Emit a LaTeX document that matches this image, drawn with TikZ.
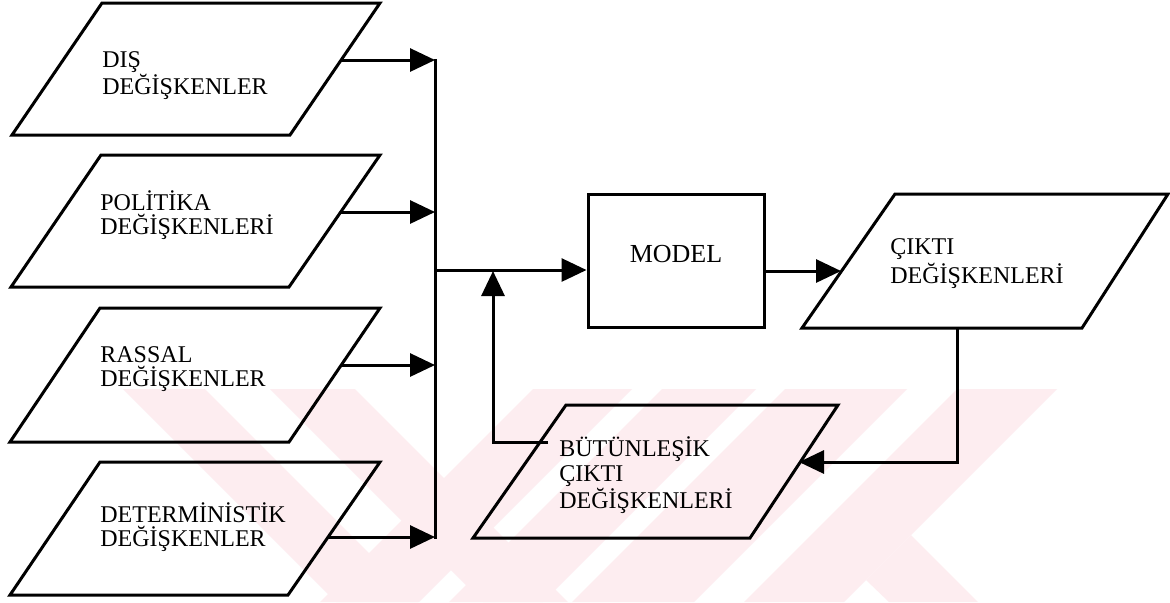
\documentclass[tikz,border=0pt]{standalone}
\usepackage{fontspec}
\setmainfont{Liberation Serif}
\usetikzlibrary{arrows.meta,calc}
\definecolor{wmark}{RGB}{253,237,240}
\begin{document}
\begin{tikzpicture}[x=0.5pt,y=-0.5pt,
  box/.style={draw=black,line width=1.5pt,line join=miter},
  link/.style={draw=black,line width=1.5pt},
  arr/.style={link,-{Triangle[length=12.5pt,width=11.5pt]}},
  lbl/.style={anchor=base west,inner sep=0pt,font=\fontsize{12pt}{14pt}\selectfont},
]
\useasboundingbox (0,0) rectangle (1170,602);
\fill[white] (0,0) rectangle (1170,602);

% faint background emblem
\begin{scope}
  \clip (120,389) rectangle (1060,602);
  \fill[wmark] (123,389) -- (205,389) -- (418,602) -- (336,602) -- cycle;
  \fill[wmark] (270,389) -- (355,389) -- (568,602) -- (483,602) -- cycle;
  \fill[wmark] (533,389) -- (632,389) -- (419,602) -- (320,602) -- cycle;
  \fill[wmark] (662,389) -- (756,389) -- (543,602) -- (449,602) -- cycle;
  \fill[wmark] (785,389) -- (907,389) -- (694,602) -- (572,602) -- cycle;
  \fill[wmark] (957,389) -- (1057,389) -- (844,602) -- (744,602) -- cycle;
  \fill[wmark] (866,580) -- (911,535) -- (978,602) -- (889,602) -- cycle;
\end{scope}

% input parallelograms
\draw[box] (102,3)   -- (380,3)   -- (290,135) -- (12,135) -- cycle;
\draw[box] (101,155) -- (380,155) -- (289,287) -- (11,287) -- cycle;
\draw[box] (100,308) -- (380,308) -- (289,442) -- (10,442) -- cycle;
\draw[box] (100,462) -- (380,462) -- (288,595) -- (10,595) -- cycle;

\node[lbl] (t1a) at (102,67)  {DIŞ};
\node[lbl] (t1b) at (102,94)  {DEĞİŞKENLER};
\node[lbl] (t2a) at (100,210) {POLİTİKA};
\node[lbl] (t2b) at (100,234) {DEĞİŞKENLERİ};
\node[lbl] (t3a) at (100,362) {RASSAL};
\node[lbl] (t3b) at (100,386) {DEĞİŞKENLER};
\node[lbl] (t4a) at (100,522) {DETERMİNİSTİK};
\node[lbl] (t4b) at (100,546) {DEĞİŞKENLER};

% model block
\node[box,minimum width=88pt,minimum height=66.5pt,inner sep=0pt] (model) at (676,260.5) {};
\node[anchor=base,inner sep=0pt,font=\fontsize{13pt}{15pt}\selectfont] (tm) at (676,262) {MODEL};

% output parallelogram
\draw[box] (895,194) -- (1168,194) -- (1082,328) -- (802,328) -- cycle;
\node[lbl] (tc1) at (890,254) {ÇIKTI};
\node[lbl] (tc2) at (890,283) {DEĞİŞKENLERİ};

% integrated output parallelogram
\draw[box] (566,405) -- (838,405) -- (750,538) -- (473,538) -- cycle;
\node[lbl] (tb1) at (559,456) {BÜTÜNLEŞİK};
\node[lbl] (tb2) at (559,481) {ÇIKTI};
\node[lbl] (tb3) at (559,508) {DEĞİŞKENLERİ};

% connector end points
\coordinate (o1) at (341,60);
\coordinate (o2) at (341,212);
\coordinate (o3) at (341,365);
\coordinate (o4) at (328,537);
\coordinate (j1) at (435,60);
\coordinate (j2) at (435,212);
\coordinate (j3) at (435,365);
\coordinate (j4) at (435,537);
\coordinate (jm) at (435,270);
\coordinate (jf) at (493,271);
\coordinate (cin) at (841,271);
\coordinate (cout) at (957,328);
\coordinate (bin) at (799,462);
\coordinate (bout) at (548,442);

% connectors
\draw[link,line cap=rect] (j1) -- (j4);
\draw[arr] (o1) -- (j1);
\draw[arr] (o2) -- (j2);
\draw[arr] (o3) -- (j3);
\draw[arr] (o4) -- (j4);
\draw[arr] (jm) -- (jm -| model.west);
\draw[arr] (model.east |- cin) -- (cin);
\draw[arr] (cout) |- (bin);
\draw[arr] (bout) -| (jf);
\end{tikzpicture}
\end{document}
